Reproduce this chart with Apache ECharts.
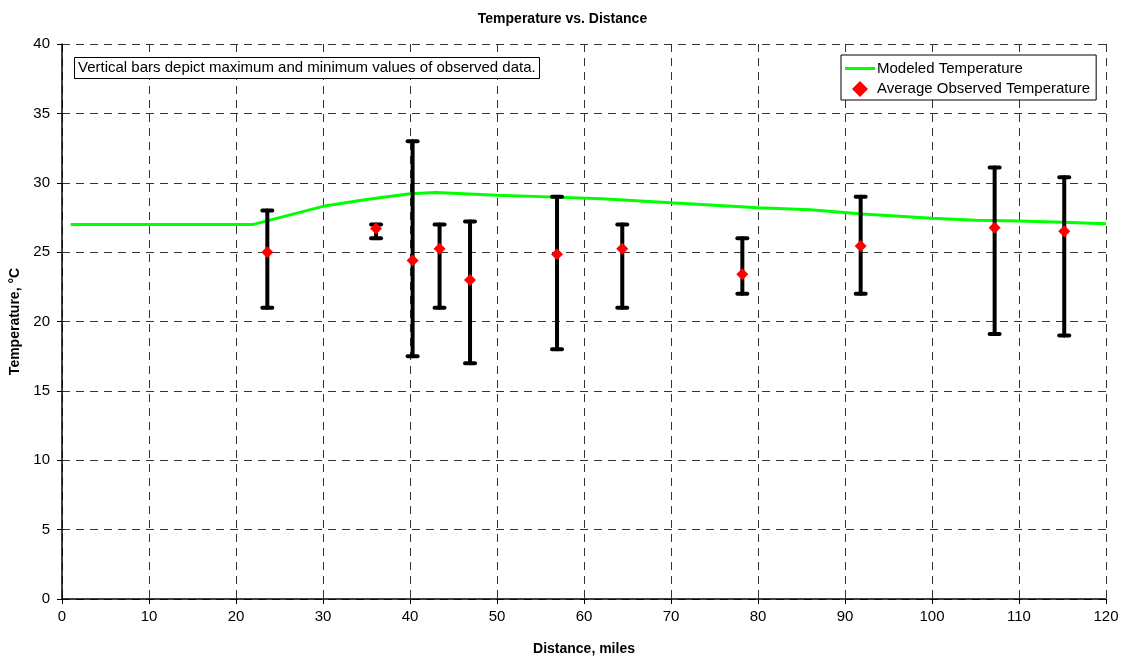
<!DOCTYPE html>
<html>
<head>
<meta charset="utf-8">
<script src="https://cdn.jsdelivr.net/npm/echarts@6/dist/echarts.min.js"></script>
<style>
  html, body { margin: 0; padding: 0; background: #fff; }
  #main { width: 1125px; height: 658px; }
</style>
</head>
<body>
<div id="main"></div>
<script>
// modeled temperature curve
var modelX = [1, 22, 30, 35, 40, 43, 50, 55, 62, 70, 80, 86, 92, 100, 105, 110, 115, 120];
var modelY = [27.0, 27.0, 28.3, 28.8, 29.2, 29.3, 29.1, 29.0, 28.85, 28.55, 28.2, 28.05, 27.75, 27.45, 27.3, 27.25, 27.15, 27.05];

// observed data: distance, average, max, min
var obsX = [23.6, 36.1, 40.3, 43.4, 46.9, 56.9, 64.4, 78.2, 91.8, 107.2, 115.2];
var obsAvg = [25.0, 26.7, 24.4, 25.25, 23.0, 24.85, 25.25, 23.4, 25.45, 26.75, 26.5];
var obsMax = [28.0, 27.0, 33.0, 27.0, 27.2, 29.0, 27.0, 26.0, 29.0, 31.1, 30.4];
var obsMin = [21.0, 26.0, 17.5, 21.0, 17.0, 18.0, 21.0, 22.0, 22.0, 19.1, 19.0];

var xTicks = [0, 10, 20, 30, 40, 50, 60, 70, 80, 90, 100, 110, 120];
var yTicks = [0, 5, 10, 15, 20, 25, 30, 35, 40];

var modelData = modelX.map(function (x, i) { return [x, modelY[i]]; });
var avgData = obsX.map(function (x, i) { return [x, obsAvg[i]]; });
var barData = obsX.map(function (x, i) { return [x, obsMax[i], obsMin[i]]; });

var font = '"Liberation Sans", Arial, sans-serif';
var myChart = echarts.init(document.getElementById('main'));

var option = {
    animation: false,
    backgroundColor: '#fff',
    textStyle: { fontFamily: font },
    title: [
        {
            text: 'Temperature vs. Distance',
            left: 'center',
            top: 7,
            textStyle: { fontFamily: font, fontSize: 14, fontWeight: 'bold', color: '#000' }
        },
        {
            text: 'Vertical bars depict maximum and minimum values of observed data.',
            left: 74,
            top: 57,
            padding: [3, 4, 3, 4],
            borderColor: '#000',
            borderWidth: 1,
            backgroundColor: '#fff',
            textStyle: { fontFamily: font, fontSize: 15, fontWeight: 'normal', color: '#000', lineHeight: 16 }
        }
    ],
    legend: {
        orient: 'vertical',
        left: 841,
        top: 55,
        padding: [6, 6, 3, 4],
        itemGap: 5,
        itemWidth: 30,
        itemHeight: 16,
        symbolKeepAspect: true,
        borderColor: '#000',
        borderWidth: 1,
        backgroundColor: '#fff',
        textStyle: { fontFamily: font, fontSize: 15, color: '#000', padding: [0, 0, 0, -3] },
        data: [
            { name: 'Modeled Temperature', icon: 'path://M0,0 L30,0 L30,3 L0,3 Z' },
            { name: 'Average Observed Temperature', icon: 'path://M5,0 L10,5 L5,10 L0,5 Z' }
        ]
    },
    grid: {
        left: 62,
        right: 19,
        top: 44,
        bottom: 59,
        containLabel: false,
        outerBoundsMode: 'none'
    },
    xAxis: {
        type: 'value',
        min: 0,
        max: 120,
        interval: 10,
        name: 'Distance, miles',
        nameLocation: 'middle',
        nameGap: 43,
        nameTextStyle: { fontFamily: font, fontSize: 14, fontWeight: 'bold', color: '#000' },
        axisLine: { lineStyle: { color: '#000', width: 1.5 } },
        axisTick: { show: true, length: 5, lineStyle: { color: '#000' } },
        axisLabel: {
            fontFamily: font, fontSize: 15, color: '#000', margin: 10,
            formatter: function (v) { return xTicks.indexOf(v) >= 0 ? String(v) : ''; }
        },
        splitLine: { show: true, lineStyle: { color: '#333', type: [8, 6], width: 1 } }
    },
    yAxis: {
        type: 'value',
        min: 0,
        max: 40,
        interval: 5,
        name: 'Temperature, °C',
        nameLocation: 'middle',
        nameGap: 39,
        nameTextStyle: { fontFamily: font, fontSize: 14, fontWeight: 'bold', color: '#000' },
        axisLine: { show: true, lineStyle: { color: '#000', width: 1.5 } },
        axisTick: { show: true, length: 5, lineStyle: { color: '#000' } },
        axisLabel: {
            fontFamily: font, fontSize: 15, color: '#000', margin: 12,
            formatter: function (v) { return yTicks.indexOf(v) >= 0 ? String(v) : ''; }
        },
        splitLine: { show: true, lineStyle: { color: '#333', type: [8, 6], width: 1 } }
    },
    series: [
        {
            name: 'Modeled Temperature',
            type: 'line',
            data: modelData,
            symbol: 'none',
            smooth: false,
            lineStyle: { color: '#00ff00', width: 3 },
            itemStyle: { color: '#00ff00' },
            z: 2
        },
        {
            name: 'Max/Min',
            type: 'custom',
            data: barData,
            encode: { x: 0, y: [1, 2] },
            z: 3,
            renderItem: function (params, api) {
                var x = api.value(0);
                var top = api.coord([x, api.value(1)]);
                var bot = api.coord([x, api.value(2)]);
                var cap = 5;
                var style = { stroke: '#000', lineWidth: 4, lineCap: 'round' };
                return {
                    type: 'group',
                    children: [
                        { type: 'line', shape: { x1: top[0], y1: top[1], x2: bot[0], y2: bot[1] }, style: style },
                        { type: 'line', shape: { x1: top[0] - cap, y1: top[1], x2: top[0] + cap, y2: top[1] }, style: style },
                        { type: 'line', shape: { x1: bot[0] - cap, y1: bot[1], x2: bot[0] + cap, y2: bot[1] }, style: style }
                    ]
                };
            }
        },
        {
            name: 'Average Observed Temperature',
            type: 'scatter',
            data: avgData,
            symbol: 'diamond',
            symbolSize: 12,
            itemStyle: { color: '#ff0000', opacity: 1 },
            z: 4
        }
    ]
};

myChart.setOption(option);
</script>
</body>
</html>
